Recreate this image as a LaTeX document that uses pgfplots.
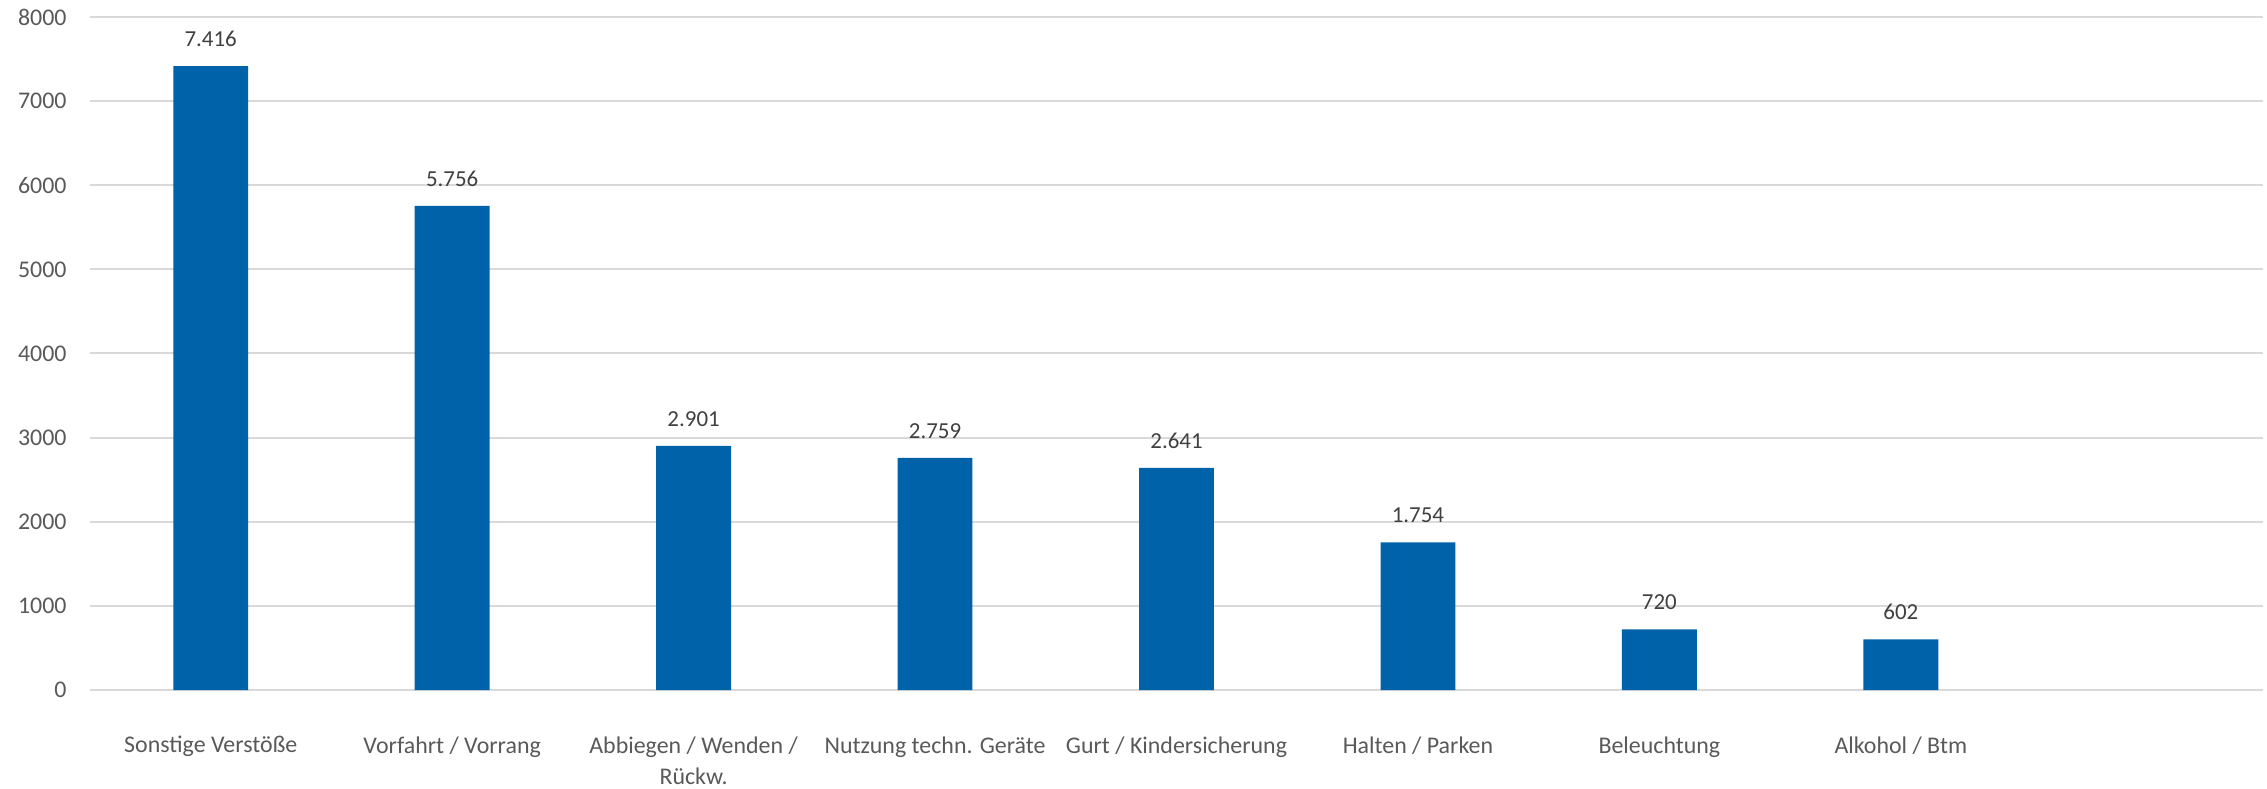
\documentclass[border=0pt]{standalone}
\usepackage{pgfplots}
\pgfplotsset{compat=1.18}
\usepackage{fontspec}
\setmainfont{Carlito}
\definecolor{barblue}{HTML}{0062A8}
\definecolor{gridgray}{HTML}{D9D9D9}
\definecolor{textgray}{HTML}{595959}
\definecolor{labgray}{HTML}{404040}
\begin{document}
\begin{tikzpicture}
\begin{axis}[
  scale only axis, width=1086.5bp, height=336.5bp,
  xmin=-0.5, xmax=8.5, ymin=0, ymax=8000,
  ybar, bar width=0.31,
  ytick={0,1000,...,8000},
  xtick={0,1,2,3,4,5,6,7},
  xticklabels={Sonstige Verstöße, Vorfahrt / Vorrang, {Abbiegen / Wenden /\\Rückw.}, Nutzung techn. Geräte, Gurt / Kindersicherung, Halten / Parken, Beleuchtung, Alkohol / Btm},
  ymajorgrids, major grid style={gridgray, line width=1bp},
  axis line style={draw=none},
  major tick length=0pt,
  scaled y ticks=false,
  tick label style={font=\fontsize{12}{16}\selectfont, text=textgray},
  yticklabel style={font=\fontsize{12}{16}\selectfont, inner sep=0pt, anchor=east, xshift=-11.5bp},
  xticklabel style={inner sep=0pt, anchor=north, yshift=-23bp, align=center},
  /pgf/number format/assume math mode=true,
  yticklabels={0,1000,2000,3000,4000,5000,6000,7000,8000},
  nodes near coords={\pgfmathprintnumber[fixed, precision=0, 1000 sep={.}, assume math mode=true]{\pgfplotspointmeta}},
  nodes near coords style={font=\fontsize{11.5}{15}\selectfont, text=labgray, inner sep=0pt, anchor=south, yshift=9.5bp},
]
\addplot[fill=barblue, draw=none] coordinates {
  (0,7416) (1,5756) (2,2901) (3,2759) (4,2641) (5,1754) (6,720) (7,602)
};
\end{axis}
\path ([xshift=-45bp,yshift=-49bp]current axis.south west) rectangle ([xshift=2bp,yshift=8.5bp]current axis.north east);
\end{tikzpicture}
\end{document}
